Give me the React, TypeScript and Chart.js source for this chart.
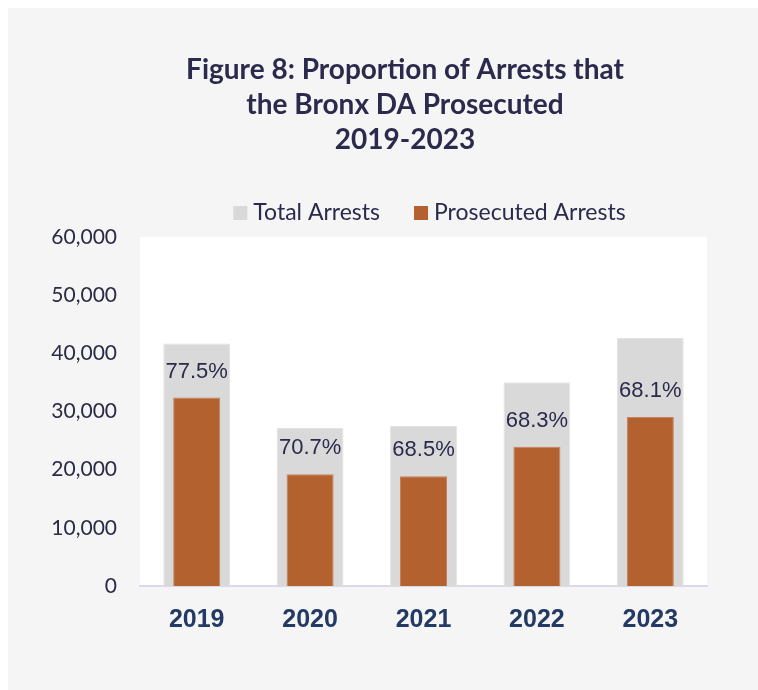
import React, { useEffect, useRef } from "react";
import { Chart, registerables } from "chart.js";

Chart.register(...registerables);

const years = ["2019", "2020", "2021", "2022", "2023"];
const totalArrests = [41700, 27150, 27500, 35050, 42650];
const prosecutedArrests = [32400, 19200, 18850, 23950, 29050];
const pctLabels = ["77.5%", "70.7%", "68.5%", "68.3%", "68.1%"];
const seriesNames = ["Total Arrests", "Prosecuted Arrests"];
const titleLines = [
  "Figure 8: Proportion of Arrests that",
  "the Bronx DA Prosecuted",
  "2019-2023",
];
const yMin = 0;
const yMax = 60000;
const yStep = 10000;

const GRAY = "#d9d9d9";
const ORANGE = "#b46130";
const NAVY = "#2b2a4c";

const decorPlugin = {
  id: "decor",
  beforeDraw(chart: any) {
    const { ctx, chartArea: a, width, height } = chart;
    ctx.save();
    ctx.fillStyle = "#f5f5f5";
    ctx.fillRect(0, 0, width, height);
    ctx.fillStyle = "#ffffff";
    ctx.fillRect(a.left, a.top, a.right - a.left, a.bottom - a.top);
    ctx.restore();
  },
  afterDatasetsDraw(chart: any) {
    const { ctx } = chart;
    const meta = chart.getDatasetMeta(1);
    ctx.save();
    ctx.fillStyle = NAVY;
    ctx.font = '22px "Liberation Sans", Arial, sans-serif';
    ctx.textAlign = "center";
    ctx.textBaseline = "middle";
    meta.data.forEach((bar: any, i: number) => {
      ctx.fillText(pctLabels[i], bar.x, bar.y - 26);
    });
    ctx.restore();
  },
  afterDraw(chart: any) {
    const { ctx, chartArea: a, width } = chart;
    ctx.save();
    // Title
    ctx.fillStyle = NAVY;
    ctx.font = 'bold 28px Lato, "Noto Sans", sans-serif';
    ctx.textAlign = "center";
    ctx.textBaseline = "middle";
    const tx = width / 2 + 22;
    titleLines.forEach((line, i) => {
      ctx.fillText(line, tx, 62 + i * 35);
    });
    // Legend
    ctx.font = '23px Lato, "Noto Sans", sans-serif';
    const colors = chart.data.datasets.map((d: any) => d.backgroundColor);
    const box = 14;
    const gap = 6;
    const itemGap = 34;
    const widths = seriesNames.map((s) => ctx.measureText(s).width);
    const total = box * 2 + gap * 2 + widths[0] + widths[1] + itemGap;
    let x = (a.left + a.right) / 2 + 6 - total / 2;
    const ly = 205;
    ctx.textAlign = "left";
    seriesNames.forEach((s, i) => {
      ctx.fillStyle = colors[i];
      ctx.fillRect(x, ly - box / 2, box, box);
      x += box + gap;
      ctx.fillStyle = NAVY;
      ctx.fillText(s, x, ly);
      x += widths[i] + itemGap;
    });
    ctx.restore();
  },
};

export default function App() {
  const canvasRef = useRef<HTMLCanvasElement | null>(null);

  useEffect(() => {
    if (!canvasRef.current) return;
    const chart = new Chart(canvasRef.current, {
      type: "bar",
      data: {
        labels: years,
        datasets: [
          {
            label: seriesNames[0],
            data: totalArrests,
            backgroundColor: GRAY,
            borderColor: "#e4e4e4",
            borderWidth: 1,
            grouped: false,
            order: 1,
            barPercentage: 0.59,
            categoryPercentage: 1,
          },
          {
            label: seriesNames[1],
            data: prosecutedArrests,
            backgroundColor: ORANGE,
            borderColor: "#c98158",
            borderWidth: 1,
            grouped: false,
            order: 0,
            barPercentage: 0.415,
            categoryPercentage: 1,
          },
        ],
      } as any,
      options: {
        responsive: false,
        animation: false,
        layout: { padding: { top: 229, right: 51, bottom: 44, left: 0 } },
        plugins: {
          legend: { display: false },
          title: { display: false },
          tooltip: { enabled: false },
        },
        scales: {
          x: {
            grid: { display: false, drawTicks: false },
            border: { display: true, color: "#d9d9ea", width: 2 },
            ticks: {
              color: "#233a64",
              font: { family: '"Liberation Sans", Arial, sans-serif', size: 25, weight: "bold" },
              padding: 19,
            },
            afterFit(scale: any) {
              scale.height = 60;
            },
          },
          y: {
            min: yMin,
            max: yMax,
            grid: { display: false, drawTicks: false },
            border: { display: false },
            ticks: {
              stepSize: yStep,
              color: "#2b2b45",
              font: { family: 'Lato, "Noto Sans", sans-serif', size: 21 },
              padding: 23,
              callback: (v: any) => Number(v).toLocaleString("en-US"),
            },
            afterFit(scale: any) {
              scale.width = 132;
            },
          },
        },
      } as any,
      plugins: [decorPlugin],
    });
    return () => chart.destroy();
  }, []);

  return (
    <div style={{ position: "absolute", left: 8, top: 8, width: 750, height: 682 }}>
      <canvas ref={canvasRef} width={750} height={682} style={{ display: "block" }} />
    </div>
  );
}
